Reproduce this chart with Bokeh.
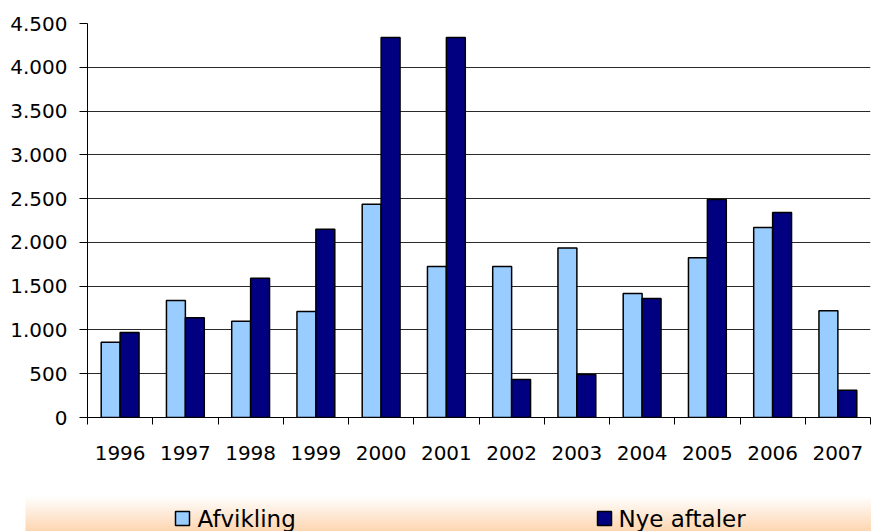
import numpy as np
from bokeh.plotting import figure
from bokeh.models import ColumnDataSource, Range1d, FixedTicker
from bokeh.layouts import column
from bokeh.transform import dodge
from bokeh.core.properties import value
from bokeh.embed import file_html
from bokeh.resources import INLINE

# ---- data ----
years = ["1996", "1997", "1998", "1999", "2000", "2001",
         "2002", "2003", "2004", "2005", "2006", "2007"]
afvikling = [860, 1335, 1100, 1210, 2435, 1725, 1725, 1935, 1415, 1825, 2170, 1220]
nye_aftaler = [970, 1140, 1590, 2150, 4340, 4340, 435, 490, 1360, 2490, 2340, 310]
y_ticks = [0, 500, 1000, 1500, 2000, 2500, 3000, 3500, 4000, 4500]
y_tick_labels = ["0", "500", "1.000", "1.500", "2.000", "2.500",
                 "3.000", "3.500", "4.000", "4.500"]
series_names = ["Afvikling", "Nye aftaler"]

LIGHT = "#99CCFF"
NAVY = "#000080"
FONT = "DejaVu Sans"

n = len(years)
centers = [i + 0.5 for i in range(n)]
bounds = list(range(n + 1))

src = ColumnDataSource(dict(x=centers, afv=afvikling, nye=nye_aftaler))

W = 871
H1 = 478
H2 = 53
p = figure(width=W, height=H1, output_backend="svg", toolbar_location=None,
           x_range=Range1d(0, n), y_range=Range1d(0, 4500),
           min_border_left=87, min_border_right=1, min_border_top=23,
           min_border_bottom=61)
p.frame_align = False
p.outline_line_color = None
p.background_fill_color = "white"
p.border_fill_color = "white"

bw = 0.29
p.vbar(x=dodge("x", -bw / 2, range=p.x_range), top="afv", width=bw, source=src,
       fill_color=LIGHT, line_color="black", line_width=1.5)
p.vbar(x=dodge("x", bw / 2, range=p.x_range), top="nye", width=bw, source=src,
       fill_color=NAVY, line_color="black", line_width=1.5)

# y axis
p.yaxis.ticker = FixedTicker(ticks=y_ticks)
p.yaxis.major_label_overrides = {t: l for t, l in zip(y_ticks, y_tick_labels)}
p.yaxis.major_tick_out = 8
p.yaxis.major_tick_in = 0
p.yaxis.minor_tick_line_color = None
p.yaxis.major_label_standoff = 12
p.yaxis.major_label_text_font = FONT
p.yaxis.major_label_text_font_size = "20px"
p.yaxis.major_label_text_color = "black"
p.yaxis.axis_line_color = "black"
p.yaxis.major_tick_line_color = "black"

# x axis: labels at centers, ticks at boundaries (minor)
p.xaxis.ticker = FixedTicker(ticks=centers, minor_ticks=bounds)
p.xaxis.major_label_overrides = {c: y for c, y in zip(centers, years)}
p.xaxis.major_tick_line_color = None
p.xaxis.major_tick_out = 0
p.xaxis.major_tick_in = 0
p.xaxis.minor_tick_in = 0
p.xaxis.minor_tick_out = 7
p.xaxis.minor_tick_line_color = "black"
p.xaxis.major_label_standoff = 21
p.xaxis.major_label_text_font = FONT
p.xaxis.major_label_text_font_size = "20px"
p.xaxis.major_label_text_color = "black"
p.xaxis.axis_line_color = "black"

p.xgrid.grid_line_color = None
p.ygrid.ticker = FixedTicker(ticks=y_ticks)
p.ygrid.grid_line_color = "#2a2a2a"
p.ygrid.grid_line_width = 1

# ---- legend band ----
p2 = figure(width=W, height=H2, output_backend="svg", toolbar_location=None,
            x_range=Range1d(0, W), y_range=Range1d(0, H2),
            x_axis_location=None, y_axis_location=None,
            min_border=0, min_border_left=0, min_border_right=0,
            min_border_top=0, min_border_bottom=0)
p2.frame_align = False
p2.grid.visible = False
p2.outline_line_color = None
p2.background_fill_color = "white"
p2.border_fill_color = "white"

band_h = 36
top_rgb = np.array([255, 255, 255])
bot_rgb = np.array([253, 200, 150])
lefts, rights, bottoms, tops, cols = [], [], [], [], []
for k in range(band_h):
    t = k / (band_h - 1)
    c = bot_rgb + (top_rgb - bot_rgb) * t
    lefts.append(25); rights.append(W)
    bottoms.append(k); tops.append(k + 1.05)
    cols.append("#%02x%02x%02x" % tuple(int(round(v)) for v in c))
p2.quad(left=lefts, right=rights, bottom=bottoms, top=tops,
        fill_color=cols, line_color=None)

p2.scatter(x=[182, 604], y=[13, 13], marker="square", size=14,
           fill_color=[LIGHT, NAVY], line_color="black", line_width=1.5)
p2.text(x=[197, 618], y=[13, 13], text=series_names,
        text_font=value(FONT), text_font_size="23px", text_color="black",
        text_baseline="middle", text_align="left")

layout = column(p, p2, spacing=0)
open("out.html", "w").write(file_html(layout, INLINE))
